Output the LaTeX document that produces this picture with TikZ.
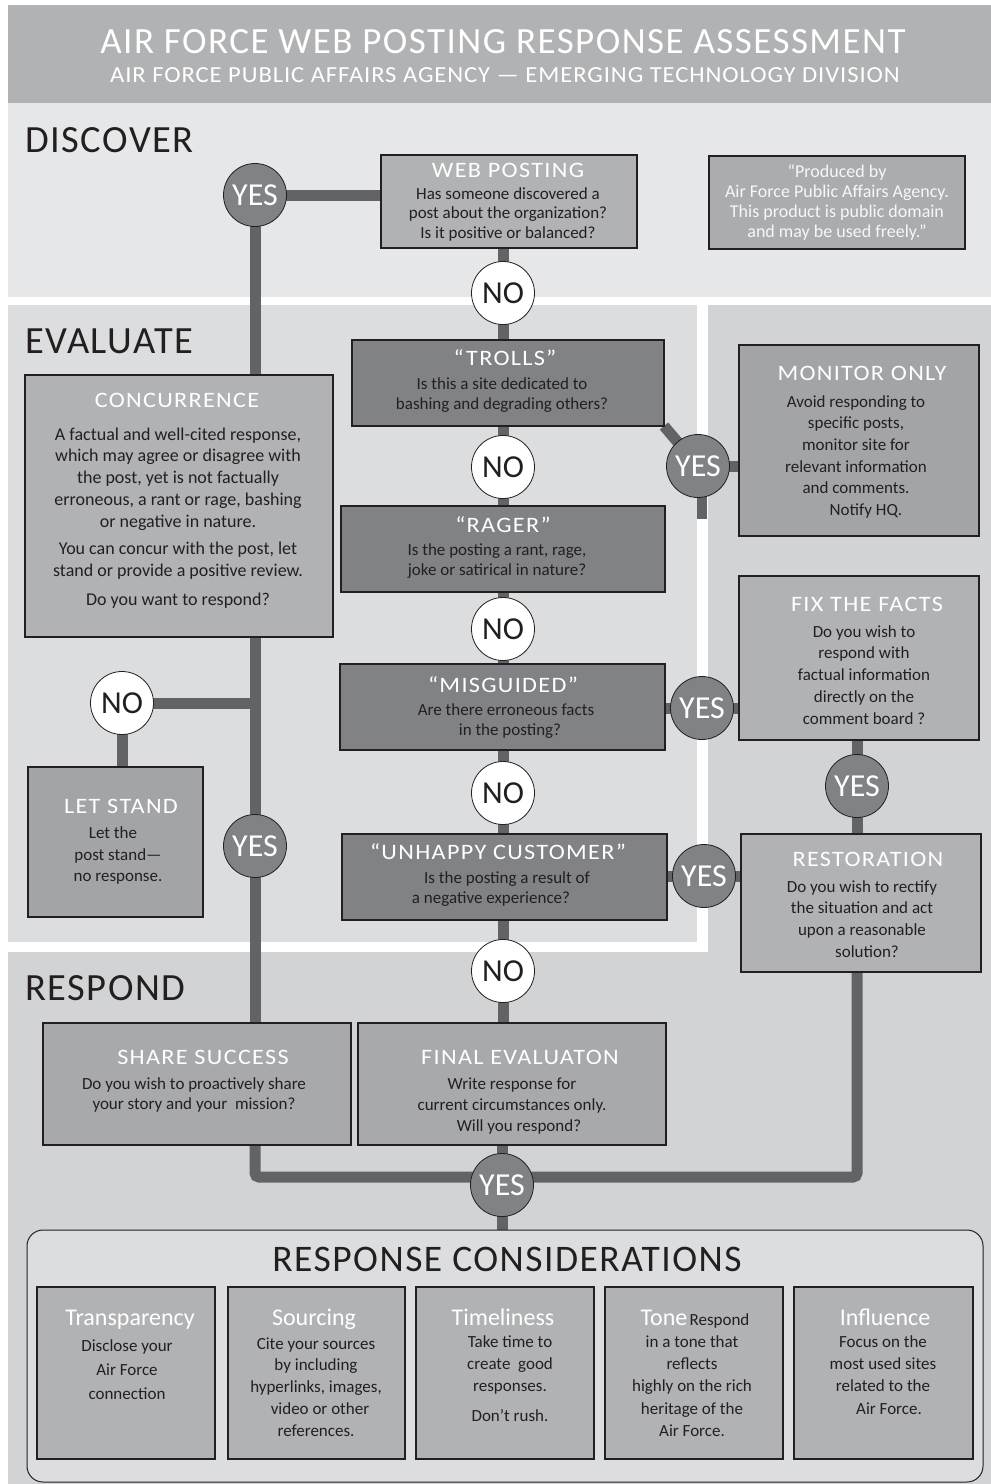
\documentclass[tikz,border=0pt]{standalone}
\usepackage{fontspec}
\setmainfont{Carlito}
\newfontfamily\spc{Carlito}[FakeStretch=1.1, LetterSpace=6]
\newfontfamily\spcS{Carlito}[LetterSpace=4]
\newfontfamily\spcW{Carlito}[FakeStretch=1.07, LetterSpace=4]
\usetikzlibrary{calc}
\definecolor{hdr}{HTML}{B1B2B4}
\definecolor{disc}{HTML}{E6E7E8}
\definecolor{evalc}{HTML}{DCDDDF}
\definecolor{resp}{HTML}{D1D3D4}
\definecolor{lboxc}{HTML}{B1B2B4}
\definecolor{dboxc}{HTML}{808285}
\definecolor{mboxc}{HTML}{A3A4A7}
\definecolor{sboxc}{HTML}{A8A9AC}
\definecolor{pboxc}{HTML}{ABACAE}
\definecolor{conncol}{HTML}{626366}
\definecolor{yescol}{HTML}{808285}
\definecolor{txt}{HTML}{231F20}
\definecolor{prodtxt}{HTML}{F7F7F7}
\newcommand\myfs[2]{\fontsize{#1}{#2}\selectfont}
\newcommand\mkbox[6]{\node[#1, minimum width={(#5-#3)*1pt}, minimum height={(#6-#4)*1pt}] (#2) at ({(#3+#5)/2},{(#4+#6)/2}) {};}
\pgfdeclarelayer{bg}
\pgfdeclarelayer{connl}
\pgfsetlayers{bg,connl,main}
\tikzset{
  boxbase/.style={draw=txt, line width=1.3pt, inner sep=0pt, outer sep=0pt},
  lbox/.style={boxbase, fill=lboxc},
  dbox/.style={boxbase, fill=dboxc},
  mbox/.style={boxbase, fill=mboxc},
  sbox/.style={boxbase, fill=sboxc},
  pbox/.style={boxbase, fill=pboxc},
  conn/.style={draw=conncol, line width=11pt},
  yesnode/.style={circle, draw=txt, line width=0.8pt, fill=yescol, minimum size=63pt, inner sep=0pt, text=white, font=\myfs{32}{32}, text height=20.6pt, text depth=0pt},
  nonode/.style={yesnode, fill=white, text=txt},
  ttl/.style={text=white, font=\spc\myfs{22}{22}, anchor=base, inner sep=0pt},
  ctl/.style={text=white, font=\myfs{24}{24}, anchor=base, inner sep=0pt},
  body/.style={text=txt, align=center, anchor=north, inner sep=0pt},
  sect/.style={text=txt, font=\spcS\myfs{38.5}{38.5}, anchor=base west, inner sep=0pt},
}
\begin{document}
\begin{tikzpicture}[x=1pt,y=-1pt]
\useasboundingbox (0,0) rectangle (991,1484);
\begin{pgfonlayer}{bg}
  \fill[white] (0,0) rectangle (991,1484);
  \fill[hdr] (8,5) rectangle (991,103);
  \fill[disc] (8,103) rectangle (991,297);
  \fill[evalc] (8,305) rectangle (697,942);
  \fill[resp] (708,305) -- (991,305) -- (991,1484) -- (8,1484) -- (8,952) -- (708,952) -- cycle;
\end{pgfonlayer}

% header
\node[font=\spcS\myfs{37}{37}, text=white, anchor=base, inner sep=0pt] (title) at (503,53) {AIR FORCE WEB POSTING RESPONSE ASSESSMENT};
\node[font=\spcW\myfs{23}{23}, text=white, anchor=base, inner sep=0pt] (subtitle) at (505,82) {AIR FORCE PUBLIC AFFAIRS AGENCY — EMERGING TECHNOLOGY DIVISION};

% section labels
\node[sect] (discover) at (25,152) {DISCOVER};
\node[sect] (evaluate) at (25,353) {EVALUATE};
\node[sect] (respond) at (25,1000) {RESPOND};

% boxes
\mkbox{lbox}{webpost}{381}{155}{637}{248}
\mkbox{pbox}{produced}{709}{156}{965}{249}
\mkbox{dbox}{trolls}{352}{340}{664}{426}
\mkbox{dbox}{rager}{341}{506}{665}{592}
\mkbox{dbox}{misg}{340}{664}{665}{750}
\mkbox{dbox}{unhappy}{342}{834}{667}{920}
\mkbox{lbox}{concur}{25}{375}{333}{637}
\mkbox{mbox}{monitor}{739}{345}{979}{536}
\mkbox{lbox}{fix}{739}{576}{979}{740}
\mkbox{lbox}{resto}{741}{834}{981}{972}
\mkbox{mbox}{letstand}{28}{767}{203}{917}
\mkbox{sbox}{share}{43}{1023}{351}{1145}
\mkbox{sbox}{final}{358}{1023}{666}{1145}
\mkbox{boxbase, fill=evalc, line width=1pt, rounded corners=16pt}{rc}{27}{1230}{983}{1482}
\mkbox{lbox}{ca}{37}{1287}{215}{1459}
\mkbox{lbox}{cb}{228}{1287}{405}{1459}
\mkbox{lbox}{cc}{416}{1287}{594}{1459}
\mkbox{lbox}{cd}{605}{1287}{783}{1459}
\mkbox{lbox}{ce}{794}{1287}{973}{1459}

% circles
\node[yesnode] (yes1) at (255,195) {YES};
\node[nonode] (no1) at (503,293) {NO};
\node[nonode] (no2) at (503,467) {NO};
\node[nonode] (no3) at (503,629) {NO};
\node[nonode] (no4) at (503,793) {NO};
\node[nonode] (no5) at (503,971) {NO};
\node[yesnode] (yesT) at (698,466) {YES};
\node[yesnode] (yesM) at (702,708) {YES};
\node[yesnode] (yesF) at (857,786) {YES};
\node[yesnode] (yesU) at (704,876) {YES};
\node[nonode] (noL) at (122,703) {NO};
\node[yesnode] (yes2) at (255,846) {YES};
\node[yesnode] (yesB) at (502,1185) {YES};
\coordinate (stubEnd) at (702,519);
\coordinate (botrow) at (502,1177);

% texts
\node[ttl] (webT) at (508,177) {WEB POSTING};
\node[body, font=\myfs{17}{19.5}] (webB) at (508,185.5) {\strut Has someone discovered a\\post about the organization?\\ Is it positive or balanced?};
\node[body, font=\myfs{18}{20}, text=prodtxt] (prodB) at (837,163) {\strut “Produced by\\Air Force Public Affairs Agency.\\This product is public domain\\and may be used freely.”};

\node[ttl] (trollT) at (505,365) {“TROLLS”};
\node[body, font=\myfs{17}{20}] (trollB) at (502,375) {\strut Is this a site dedicated to\\bashing and degrading others?};
\node[ttl] (ragerT) at (503,532) {“RAGER”};
\node[body, font=\myfs{17}{20}] (ragerB) at (497,541) {\strut Is the posting a rant, rage,\\joke or satirical in nature?};
\node[ttl] (misgT) at (503,692) {“MISGUIDED”};
\node[body, font=\myfs{17}{20}] (misgB) at (506,701) {\strut Are there erroneous facts\\\hspace*{8pt}in the posting?};
\node[ttl] (unhT) at (498,859) {“UNHAPPY CUSTOMER”};
\node[body, font=\myfs{17}{20}] (unhB) at (499,869) {\strut\hspace*{16pt}Is the posting a result of\\a negative experience?\hspace*{16pt}};

\node[ttl] (concT) at (177,407) {CONCURRENCE};
\node[body, font=\myfs{18}{21.75}] (concB) at (178,424.8) {\strut A factual and well-cited response,\\which may agree or disagree with\\the post, yet is not factually\\erroneous, a rant or rage, bashing\\or negative in nature.\\[6pt]You can concur with the post, let\\stand or provide a positive review.\\[7pt]Do you want to respond?};

\node[ttl] (monT) at (862,380) {MONITOR ONLY};
\node[body, font=\myfs{17}{21.6}] (monB) at (856,392) {\strut Avoid responding to\\specific posts,\\monitor site for\\relevant information\\and comments.\\\hspace*{20pt}Notify HQ.};

\node[ttl] (fixT) at (867,611) {FIX THE FACTS};
\node[body, font=\myfs{17}{21.7}] (fixB) at (864,621.8) {\strut Do you wish to\\respond with\\factual information\\directly on the\\comment board ?};

\node[ttl] (restT) at (868,866) {RESTORATION};
\node[body, font=\myfs{17}{21.7}] (restB) at (862,876.8) {\strut Do you wish to rectify\\the situation and act\\upon a reasonable\hspace*{20pt}\\\hspace*{10pt}solution?};

\node[ttl] (letT) at (121,813) {LET STAND};
\node[body, font=\myfs{17}{21.7}] (letB) at (118,823) {\strut Let the\hspace*{10pt}\\post stand—\\no response.};

\node[ttl] (shareT) at (203,1064) {SHARE SUCCESS};
\node[body, font=\myfs{17}{20}] (shareB) at (194,1075) {\strut Do you wish to proactively share\\your story and your\ \ mission?};

\node[ttl] (finalT) at (520,1064) {FINAL EVALUATON};
\node[body, font=\myfs{17}{21}] (finalB) at (512,1075) {\strut Write response for\\current circumstances only.\\\hspace*{14pt}Will you respond?};

\node[font=\spcS\myfs{37.5}{37.5}, text=txt, anchor=base, inner sep=0pt] (rcT) at (507,1271) {RESPONSE CONSIDERATIONS};

\node[ctl] (caT) at (130,1325) {Transparency};
\node[body, font=\myfs{17}{24}] (caB) at (127,1334.2) {\strut Disclose your\\Air Force\\connection};
\node[ctl] (cbT) at (314,1325) {Sourcing};
\node[body, font=\myfs{17}{21.7}] (cbB) at (316,1333.8) {\strut Cite your sources\\by including\\hyperlinks, images,\\\hspace*{8pt}video or other\\references.};
\node[ctl] (ccT) at (503,1325) {Timeliness};
\node[body, font=\myfs{17}{22.3}] (ccB) at (510,1331.4) {\strut Take time to\\create\ \ good\\responses.\hspace*{14pt}\\[7pt]Don’t rush.};
\node[anchor=base, inner sep=0pt, text=txt] (cdT) at (695,1325) {\textcolor{white}{\myfs{24}{24}Tone} \myfs{17}{17}Respond};
\node[body, font=\myfs{17}{22.3}] (cdB) at (692,1331.4) {\strut in a tone that\\reflects\\highly on the rich\\heritage of the\\Air Force.};
\node[ctl] (ceT) at (885,1325) {Influence};
\node[body, font=\myfs{17}{22.3}] (ceB) at (883,1331.4) {\strut Focus on the\\most used sites\\related to the\\\hspace*{12pt}Air Force.};

% connectors
\begin{pgfonlayer}{connl}
  \draw[conn] (yes1.center) -- (yes1.center -| webpost.west);
  \draw[conn] (yes1.center) -- (yes1.center |- concur.north);
  \draw[conn] (no1 |- webpost.south) -- (no1 |- final.north);
  \draw[conn] (trolls.south east) -- (yesT.center);
  \draw[conn] (yesT.center) -- (yesT.center -| monitor.west);
  \draw[conn, line width=10pt] (yesT.center -| stubEnd) -- (stubEnd);
  \draw[conn] (yes2 |- concur.south) -- (yes2 |- share.north);
  \draw[conn] (noL.center) -- (noL.center -| yes2);
  \draw[conn] (noL.center) -- (noL.center |- letstand.north);
  \draw[conn] (misg.east |- yesM) -- (yesM -| fix.west);
  \draw[conn] (yesF |- fix.south) -- (yesF |- resto.north);
  \draw[conn] (unhappy.east |- yesU) -- (yesU -| resto.west);
  \draw[conn] (yesB |- final.south) -- (yesB |- rc.north);
  \draw[conn, rounded corners=4pt] (yes2 |- share.south) -- (yes2 |- botrow) -- (yesF |- botrow) -- (yesF |- resto.south);
\end{pgfonlayer}
\end{tikzpicture}
\end{document}
